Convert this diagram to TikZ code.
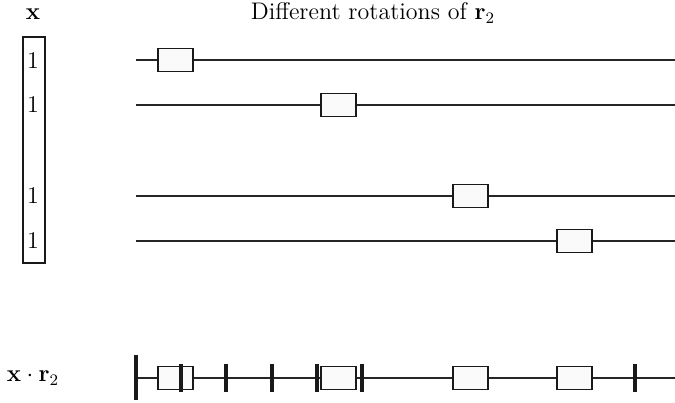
\documentclass[tikz,border=0pt]{standalone}
\usepackage{amsmath}
\begin{document}
\begin{tikzpicture}[x=0.5pt,y=-0.5pt,
  wire/.style={line width=0.7pt, draw=black!85},
  rbox/.style={draw=black!90, line width=0.75pt, fill=black!2, minimum width=17.5pt, minimum height=11.5pt, inner sep=0pt, outer sep=0pt},
  bar/.style={line width=1.7pt, draw=black!90},
  lbl/.style={inner sep=0pt, font=\large}]
\useasboundingbox (0,0) rectangle (675,402);
% header labels
\node[lbl] (xlab) at (33,14) {$\mathbf{x}$};
\node[lbl] (title) at (373,13) {Different rotations of $\mathbf{r}_2$};
% vector box
\node[draw=black!90, line width=0.75pt, minimum width=11pt, minimum height=113pt, inner sep=0pt] (vec) at (34,150) {};
\node[lbl] (o1) at (33,61) {$1$};
\node[lbl] (o2) at (33,105) {$1$};
\node[lbl] (o3) at (33,196) {$1$};
\node[lbl] (o4) at (33,241) {$1$};
% rotation rows
\foreach \i/\y/\bx in {1/60/175.5, 2/105/338.5, 3/196/470.5, 4/241/574.5}{
  \coordinate (s\i) at (136,\y);
  \coordinate (e\i) at (675,\y);
  \draw[wire] (s\i) -- (e\i);
  \node[rbox] (b\i) at (\bx,\y) {};
}
% product row
\node[lbl] (xr) at (33,378) {$\mathbf{x}\cdot\mathbf{r}_2$};
\coordinate (s5) at (136,378);
\coordinate (e5) at (675,378);
\draw[wire] (s5) -- (e5);
\foreach \i/\bx in {1/175.5, 2/338.5, 3/470.5, 4/574.5}{
  \node[rbox] (p\i) at (\bx,378) {};
}
\coordinate (t0a) at (136,355); \coordinate (t0b) at (136,400);
\draw[bar] (t0a) -- (t0b);
\foreach \j/\tx in {1/181, 2/226, 3/272, 4/317, 5/362, 6/635}{
  \coordinate (t\j a) at (\tx,364);
  \coordinate (t\j b) at (\tx,392);
  \draw[bar] (t\j a) -- (t\j b);
}
\end{tikzpicture}
\end{document}
